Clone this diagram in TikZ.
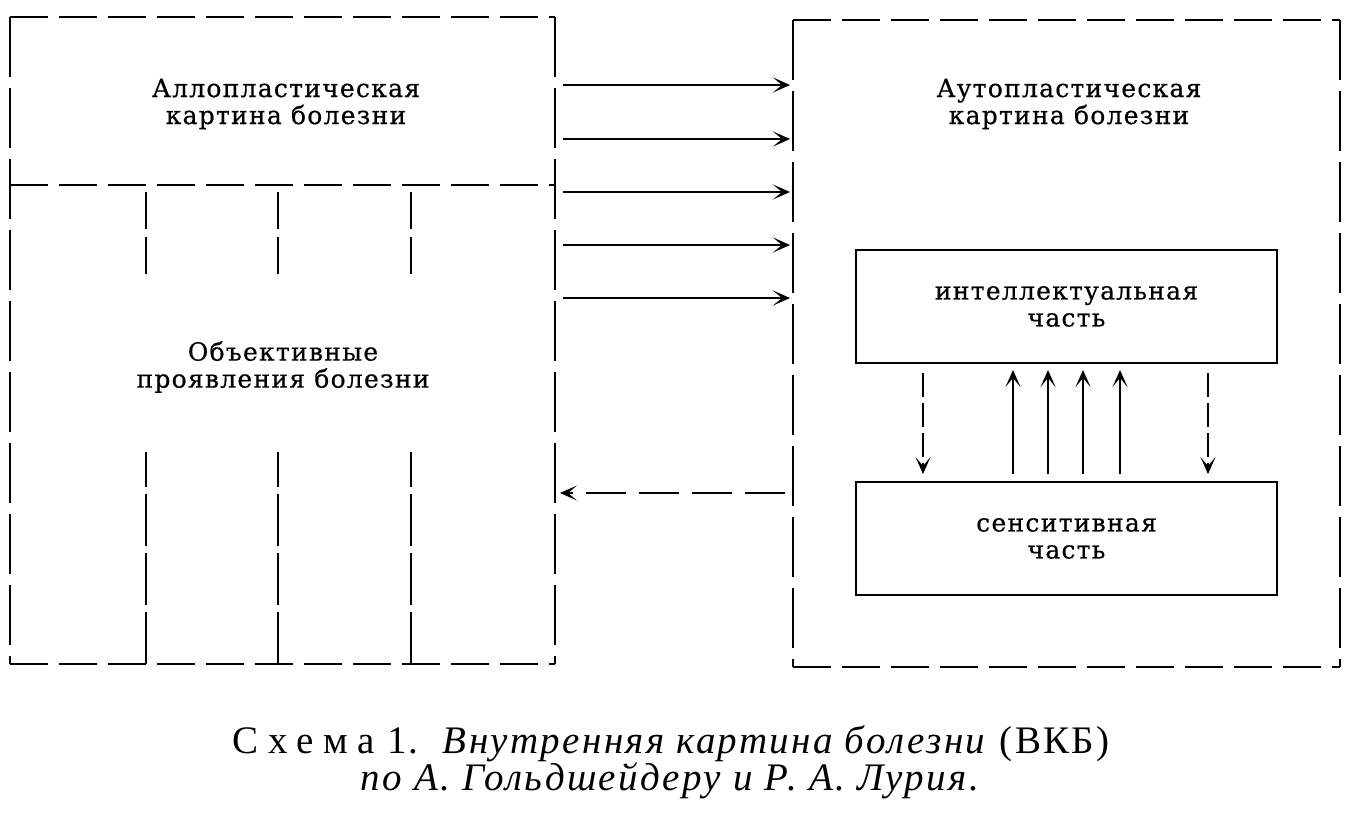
\documentclass[tikz,border=0pt]{standalone}
\usepackage{fontspec}
\setmainfont{DejaVu Serif}[LetterSpace=5, FakeBold=0.6]
\newfontfamily\capfont{Liberation Serif}[LetterSpace=6, ItalicFont=Liberation Serif Italic]
\usetikzlibrary{arrows.meta,calc}
\begin{document}
\begin{tikzpicture}[x=1pt,y=-1pt,
  region/.style={inner sep=0pt, outer sep=0pt, align=center, font=\fontsize{25}{27}\selectfont},
  solidbox/.style={draw, line width=1.8pt, inner sep=0pt, outer sep=0pt, align=center, font=\fontsize{25}{27}\selectfont},
  lbl/.style={align=center, inner sep=0pt, font=\fontsize{25}{27}\selectfont},
  hdash/.style={line width=1.9pt, dash pattern=on 38pt off 11pt},
  vdash/.style={line width=1.9pt, dash pattern=on 60pt off 11pt},
  sdash/.style={line width=1.9pt, dash pattern=on 52pt off 7pt},
  tip/.style={-{Stealth[length=17pt,width=15pt,inset=9pt]}},
  rarr/.style={tip, line width=1.8pt},
  larr/.style={tip, line width=2.6pt, dash pattern=on 40pt off 13pt},
  varr/.style={tip, line width=1.8pt},
  vdarr/.style={tip, line width=1.8pt, dash pattern=on 24pt off 6pt},
  captxt/.style={align=center, inner sep=0pt, font=\capfont\fontsize{39}{34}\selectfont}
]
\useasboundingbox (0,0) rectangle (1354,819);

% left block
\node[region, minimum width=545pt, minimum height=168pt, anchor=north west] (allo) at (10,17) {};
\node[lbl] (allotxt) at (286,104) {Аллопластическая\\картина болезни};
\node[region, minimum width=545pt, minimum height=479pt, anchor=north west] (obj) at (10,185) {};
\node[lbl] (objtxt) at (283,367) {Объективные\\проявления болезни};
\draw[hdash] (allo.north west) -- (allo.north east);
\draw[hdash] (allo.south west) -- (allo.south east);
\draw[hdash] (obj.south west) -- (obj.south east);
\draw[vdash] (allo.north west) -- (obj.south west);
\draw[vdash] (allo.north east) -- (obj.south east);
\foreach \x in {146,278,411} {
  \draw[sdash, dash pattern=on 37pt off 8pt] ($(allo.south -| \x,0)+(0,7)$) -- ++(0,86);
  \draw[sdash] (obj.south -| \x,0) -- ++(0,-212);
}

% right block
\node[region, minimum width=547pt, minimum height=647pt, anchor=north west] (auto) at (793,20) {};
\node[lbl] (autotxt) at (1069,104) {Аутопластическая\\картина болезни};
\draw[hdash] (auto.north west) -- (auto.north east);
\draw[hdash] (auto.south west) -- (auto.south east);
\draw[vdash] (auto.north west) -- (auto.south west);
\draw[vdash] (auto.north east) -- (auto.south east);

\node[solidbox, minimum width=421pt, minimum height=113pt, anchor=north west] (intel) at (856,250) {интеллектуальная\\часть};
\node[solidbox, minimum width=421pt, minimum height=113pt, anchor=north west] (sens) at (856,482) {сенситивная\\часть};

% arrows between blocks
\foreach \y in {85,139,192,245,298} {
  \draw[rarr] ($(allo.east |- 0,\y)+(8,0)$) -- ($(auto.west |- 0,\y)+(-3,0)$);
}
\draw[larr] ($(auto.west |- 0,493)+(-8,0)$) -- ($(obj.east |- 0,493)+(5,0)$);

% arrows between parts
\foreach \x in {923,1208} {
  \draw[vdarr] ($(intel.south -| \x,0)+(0,10)$) -- ($(sens.north -| \x,0)+(0,-8)$);
}
\foreach \x in {1013,1048,1083,1120} {
  \draw[varr] ($(sens.north -| \x,0)+(0,-8)$) -- ($(intel.south -| \x,0)+(0,7)$);
}

% caption
\node[captxt] (cap) at (671,762) {{\addfontfeature{LetterSpace=25}Схема} 1.\ \ \textit{Внутренняя картина болезни} (ВКБ)\\\textit{по А. Гольдшейдеру и Р. А. Лурия.}};
\end{tikzpicture}
\end{document}
